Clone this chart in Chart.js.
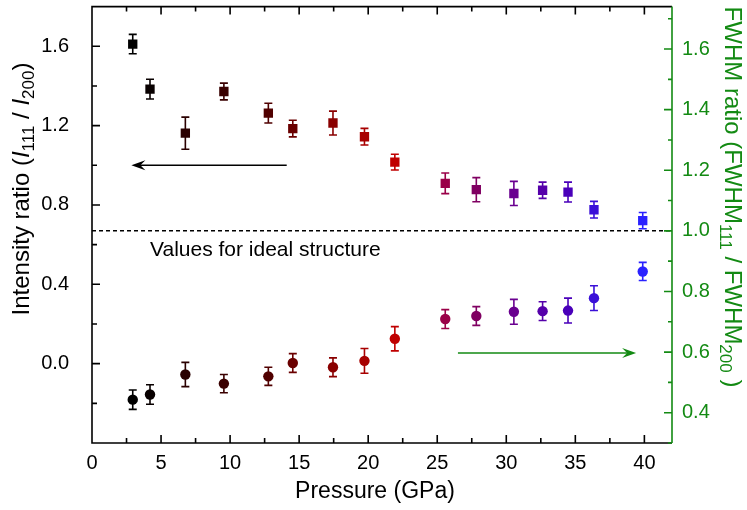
<!DOCTYPE html>
<html>
<head>
<meta charset="utf-8">
<script src="https://cdn.jsdelivr.net/npm/chart.js@4.4.1/dist/chart.umd.min.js"></script>
<style>
    html, body { margin: 0; padding: 0; background: #fff; }
    #wrap { width: 747px; height: 510px; }
</style>
</head>
<body>
<div id="wrap"><canvas id="chart" width="747" height="510"></canvas></div>
<script>
// Pressure (GPa)
const pressure = [2.95, 4.2, 6.76, 9.55, 12.77, 14.54, 17.45, 19.73, 21.93, 25.58, 27.83, 30.55, 32.63, 34.47, 36.35, 39.88];
// I111 / I200 (left axis)
const intensityRatio = [1.611, 1.384, 1.162, 1.372, 1.263, 1.185, 1.213, 1.144, 1.016, 0.909, 0.877, 0.858, 0.874, 0.865, 0.776, 0.721];
const intensityErr = [0.049, 0.050, 0.081, 0.042, 0.050, 0.042, 0.060, 0.042, 0.040, 0.052, 0.061, 0.061, 0.041, 0.050, 0.042, 0.041];
// FWHM111 / FWHM200 (right axis)
const fwhmRatio = [0.443, 0.460, 0.526, 0.496, 0.520, 0.564, 0.550, 0.571, 0.644, 0.709, 0.719, 0.733, 0.735, 0.737, 0.778, 0.866];
const fwhmErr = [0.032, 0.032, 0.040, 0.030, 0.030, 0.031, 0.031, 0.041, 0.040, 0.031, 0.031, 0.041, 0.031, 0.041, 0.041, 0.030];

const pointColors = ['#000000', '#080000', '#2a0000', '#3a0000', '#500000', '#6a0000', '#8a0000', '#a80000',
                     '#c00000', '#9a0048', '#800062', '#6a0090', '#5500aa', '#4a00ba', '#3a10d8', '#2a22ff'];

const xTicks = [0, 5, 10, 15, 20, 25, 30, 35, 40];
const leftTicks = [0.0, 0.4, 0.8, 1.2, 1.6];
const rightTicks = [0.4, 0.6, 0.8, 1.0, 1.2, 1.4, 1.6];

// annotations (data units)
const idealFwhm = 1.0;
const idealLabel = { text: 'Values for ideal structure', x: 4.2, y: 0.57 };
const leftArrow = { from: 14.1, to: 2.85, y: 1.0 };   // left axis
const rightArrow = { from: 26.5, to: 39.4, y: 0.597 }; // right axis

const GREEN = '#138a13';
const FONT = '"Liberation Sans", Arial, sans-serif';

function drawRich(ctx, parts, cx, cy, angle, size, color) {
    const subSize = Math.round(size * 0.72);
    const fontFor = p => (p.italic ? 'italic ' : '') + (p.sub ? subSize : size) + 'px ' + FONT;
    let total = 0;
    parts.forEach(p => { ctx.font = fontFor(p); p.w = ctx.measureText(p.t).width; total += p.w; });
    ctx.save();
    ctx.translate(cx, cy);
    ctx.rotate(angle);
    ctx.fillStyle = color;
    ctx.textBaseline = 'middle';
    ctx.textAlign = 'left';
    let x = -total / 2;
    parts.forEach(p => {
        ctx.font = fontFor(p);
        ctx.fillText(p.t, x, p.sub ? size * 0.32 : 0);
        x += p.w;
    });
    ctx.restore();
}

function drawArrow(ctx, x1, x2, y, color) {
    const dir = x2 > x1 ? 1 : -1;
    ctx.save();
    ctx.strokeStyle = color;
    ctx.fillStyle = color;
    ctx.lineWidth = 1.6;
    ctx.beginPath();
    ctx.moveTo(x1, y);
    ctx.lineTo(x2 - dir * 4, y);
    ctx.stroke();
    ctx.beginPath();
    ctx.moveTo(x2, y);
    ctx.lineTo(x2 - dir * 14, y - 5);
    ctx.lineTo(x2 - dir * 9, y);
    ctx.lineTo(x2 - dir * 14, y + 5);
    ctx.closePath();
    ctx.fill();
    ctx.restore();
}

const errorBars = {
    id: 'errorBars',
    beforeDatasetsDraw(chart) {
        const ctx = chart.ctx;
        const xs = chart.scales.x;
        const sets = [
            { vals: intensityRatio, errs: intensityErr, scale: chart.scales.y },
            { vals: fwhmRatio, errs: fwhmErr, scale: chart.scales.y1 }
        ];
        ctx.save();
        ctx.lineWidth = 1.6;
        sets.forEach(s => {
            s.vals.forEach((v, i) => {
                const px = xs.getPixelForValue(pressure[i]);
                const top = s.scale.getPixelForValue(v + s.errs[i]);
                const bot = s.scale.getPixelForValue(v - s.errs[i]);
                ctx.strokeStyle = pointColors[i];
                ctx.beginPath();
                ctx.moveTo(px, top); ctx.lineTo(px, bot);
                ctx.moveTo(px - 4, top); ctx.lineTo(px + 4, top);
                ctx.moveTo(px - 4, bot); ctx.lineTo(px + 4, bot);
                ctx.stroke();
            });
        });
        ctx.restore();
    }
};

const frame = {
    id: 'frame',
    afterDraw(chart) {
        const ctx = chart.ctx;
        const a = chart.chartArea;
        const xs = chart.scales.x, ys = chart.scales.y, y1 = chart.scales.y1;

        // ideal structure line
        const yIdeal = y1.getPixelForValue(idealFwhm);
        ctx.save();
        ctx.strokeStyle = '#000';
        ctx.lineWidth = 1.5;
        ctx.setLineDash([4, 3]);
        ctx.beginPath();
        ctx.moveTo(a.left, yIdeal); ctx.lineTo(a.right, yIdeal);
        ctx.stroke();
        ctx.restore();

        ctx.save();
        ctx.fillStyle = '#000';
        ctx.font = '21px ' + FONT;
        ctx.textBaseline = 'middle';
        ctx.fillText(idealLabel.text, xs.getPixelForValue(idealLabel.x), ys.getPixelForValue(idealLabel.y));
        ctx.restore();

        drawArrow(ctx, xs.getPixelForValue(leftArrow.from), xs.getPixelForValue(leftArrow.to), ys.getPixelForValue(leftArrow.y), '#000');
        drawArrow(ctx, xs.getPixelForValue(rightArrow.from), xs.getPixelForValue(rightArrow.to), y1.getPixelForValue(rightArrow.y), GREEN);

        // box + inward ticks
        ctx.save();
        ctx.lineWidth = 1.6;
        ctx.strokeStyle = '#000';
        ctx.beginPath();
        ctx.moveTo(a.right, a.top); ctx.lineTo(a.left, a.top); ctx.lineTo(a.left, a.bottom); ctx.lineTo(a.right, a.bottom);
        for (let v = 0; v <= 42; v += 2.5) {
            const px = xs.getPixelForValue(v);
            const len = v % 5 === 0 ? 8 : 5;
            ctx.moveTo(px, a.bottom); ctx.lineTo(px, a.bottom - len);
            ctx.moveTo(px, a.top); ctx.lineTo(px, a.top + len);
        }
        for (let k = -2; k <= 8; k++) {
            const v = k * 0.2;
            const py = ys.getPixelForValue(v);
            const len = k % 2 === 0 ? 8 : 5;
            ctx.moveTo(a.left, py); ctx.lineTo(a.left + len, py);
        }
        ctx.stroke();

        ctx.strokeStyle = GREEN;
        ctx.beginPath();
        ctx.moveTo(a.right, a.top); ctx.lineTo(a.right, a.bottom);
        for (let k = 3; k <= 17; k++) {
            const py = y1.getPixelForValue(k / 10);
            const len = k % 2 === 0 ? 8 : 4;
            ctx.moveTo(a.right, py); ctx.lineTo(a.right - len, py);
        }
        ctx.stroke();
        ctx.restore();

        // axis titles
        drawRich(ctx, [{ t: 'Pressure (GPa)' }], 375, 492, 0, 23, '#000');

        drawRich(ctx, [
            { t: 'Intensity ratio (' },
            { t: 'I', italic: true },
            { t: '111', sub: true },
            { t: ' / ' },
            { t: 'I', italic: true },
            { t: '200', sub: true },
            { t: ')' }
        ], 22, 189, -Math.PI / 2, 24, '#000');

        drawRich(ctx, [
            { t: 'FWHM ratio (FWHM' },
            { t: '111', sub: true },
            { t: ' / FWHM' },
            { t: '200', sub: true },
            { t: ' )' }
        ], 732, 197, Math.PI / 2, 24, GREEN);
    }
};

const noPad = s => { s.paddingTop = 0; s.paddingBottom = 0; s.paddingLeft = 0; s.paddingRight = 0; };

const ctx = document.getElementById('chart').getContext('2d');
new Chart(ctx, {
    type: 'scatter',
    data: {
        datasets: [
            {
                label: 'Intensity ratio',
                data: pressure.map((p, i) => ({ x: p, y: intensityRatio[i] })),
                yAxisID: 'y',
                pointStyle: 'rect',
                pointRadius: 6.6,
                pointBackgroundColor: pointColors,
                pointBorderColor: pointColors,
                pointBorderWidth: 0
            },
            {
                label: 'FWHM ratio',
                data: pressure.map((p, i) => ({ x: p, y: fwhmRatio[i] })),
                yAxisID: 'y1',
                pointStyle: 'circle',
                pointRadius: 5.2,
                pointBackgroundColor: pointColors,
                pointBorderColor: pointColors,
                pointBorderWidth: 0
            }
        ]
    },
    options: {
        responsive: false,
        animation: false,
        layout: { padding: { top: 5, left: 0, right: 0, bottom: 0 } },
        plugins: {
            legend: { display: false },
            tooltip: { enabled: false }
        },
        scales: {
            x: {
                type: 'linear',
                position: 'bottom',
                min: 0,
                max: 42,
                afterBuildTicks: s => { s.ticks = xTicks.map(v => ({ value: v })); },
                afterFit: s => { s.height = 67; noPad(s); },
                grid: { display: false, drawTicks: false },
                border: { display: false },
                ticks: { color: '#000', font: { family: FONT, size: 20 }, padding: 8, maxRotation: 0 }
            },
            y: {
                type: 'linear',
                position: 'left',
                min: -0.4,
                max: 1.8,
                afterBuildTicks: s => { s.ticks = leftTicks.map(v => ({ value: v })); },
                afterFit: s => { s.width = 92; noPad(s); },
                grid: { display: false, drawTicks: false },
                border: { display: false },
                ticks: { color: '#000', font: { family: FONT, size: 20 }, padding: 23, callback: v => v.toFixed(1) }
            },
            y1: {
                type: 'linear',
                position: 'right',
                min: 0.3,
                max: 1.74,
                afterBuildTicks: s => { s.ticks = rightTicks.map(v => ({ value: v })); },
                afterFit: s => { s.width = 75; noPad(s); },
                grid: { display: false, drawTicks: false },
                border: { display: false },
                ticks: { color: GREEN, font: { family: FONT, size: 20 }, padding: 10, callback: v => v.toFixed(1) }
            }
        }
    },
    plugins: [errorBars, frame]
});
</script>
</body>
</html>
